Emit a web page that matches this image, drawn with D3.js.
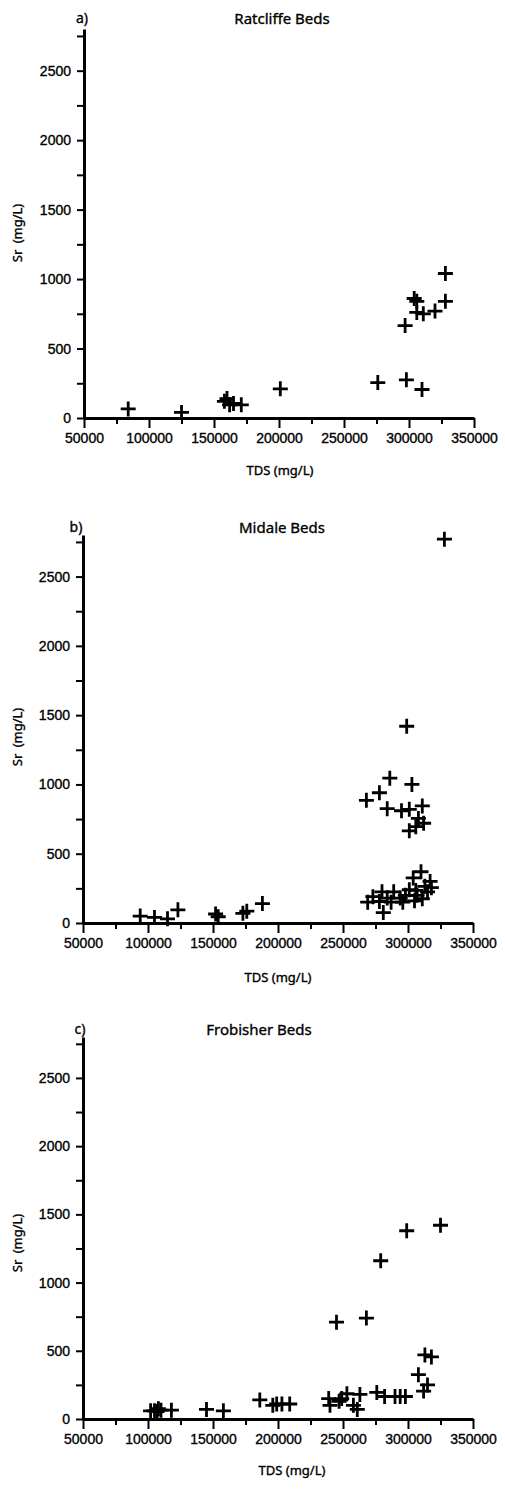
<!DOCTYPE html>
<html>
<head>
<meta charset="utf-8">
<script src="https://cdn.jsdelivr.net/npm/d3@7"></script>
<style>
  body { margin: 0; background: #fff; }
  svg { display: block; }
</style>
</head>
<body>
<script>
// values (TDS in mg/L, Sr in mg/L)
const ratcliffeTDS = [84000, 125000, 158000, 160000, 162000, 165000, 171000, 201000, 276000, 298000, 310000,
                      297000, 304000, 306000, 306000, 311000, 320000, 328000, 328000]
const ratcliffeSr  = [65, 40, 120, 140, 95, 105, 95, 210, 255, 275, 205,
                      665, 860, 840, 760, 750, 770, 840, 1040]

const midaleTDS = [94000, 105000, 115000, 123000, 152000, 154000, 173000, 176000, 188000,
                   286000, 303000, 278000, 268000, 284000, 295000, 301000, 311000, 308000, 312000, 306000, 301000, 299000, 328000,
                   310000, 304000, 317000, 313000, 318000, 301000, 306000, 315000, 289000, 280000, 273000, 284000, 294000,
                   298000, 307000, 311000, 269000, 278000, 287000, 296000, 305000, 281000]
const midaleSr  = [50, 40, 30, 95, 65, 45, 70, 85, 140,
                   1045, 1000, 940, 885, 825, 810, 820, 845, 755, 720, 695, 665, 1420, 2770,
                   370, 325, 300, 265, 255, 240, 235, 225, 225, 225, 190, 180, 180,
                   200, 200, 175, 150, 155, 150, 150, 160, 75]

const frobisherTDS = [325000, 299000, 279000, 268000, 245000, 313000, 318000, 308000, 315000, 312000,
                      276000, 282000, 290000, 294000, 298000, 263000, 253000, 249000, 239000, 240000, 258000, 261000, 247000,
                      209000, 203000, 199000, 196000, 186000, 158000, 145000, 118000, 108000, 105000, 102000, 107000, 110000]
const frobisherSr  = [1420, 1380, 1160, 740, 710, 470, 455, 325, 250, 205,
                      195, 165, 165, 165, 165, 180, 185, 150, 150, 100, 100, 70, 130,
                      110, 110, 110, 100, 140, 60, 70, 65, 75, 60, 60, 55, 65]

const xMajorTicks = [50000, 100000, 150000, 200000, 250000, 300000, 350000]
const xMinorTicks = [75000, 125000, 175000, 225000, 275000, 325000]
const yTicks = [0, 250, 500, 750, 1000, 1250, 1500, 1750, 2000, 2250, 2500, 2750]
const yLabelled = [0, 500, 1000, 1500, 2000, 2500]

let svg = d3.select("body").append("svg")
    .attr("width", 505)
    .attr("height", 1494)

// the scanned text is a bit heavy, a thin stroke gets closer to it
function heavyText(sel, family, size) {
    sel.style("font-family", family)
        .style("font-size", size)
        .attr("fill", "#000")
        .attr("stroke", "#000")
        .attr("stroke-width", 0.35)
}

function drawPanel(p, tds, sr) {
    let x = d3.scaleLinear().domain([50000, 350000]).range([p.left, p.right]),
        y = d3.scaleLinear().domain([0, 2800]).range([p.bottom, p.top]);

    let g = svg.append("g")

    // minor x ticks
    g.append("g")
        .attr("transform", "translate(0," + p.bottom + ")")
        .call(d3.axisBottom(x).tickValues(xMinorTicks).tickSize(6).tickFormat(""))
        .call(a => a.select(".domain").remove())
        .selectAll(".tick line").attr("stroke-width", 2)

    // major x ticks + labels
    let xAxis = g.append("g")
        .attr("transform", "translate(0," + p.bottom + ")")
        .call(d3.axisBottom(x).tickValues(xMajorTicks).tickSize(10).tickSizeOuter(0).tickPadding(5).tickFormat(d3.format("d")))
    xAxis.select(".domain").attr("stroke-width", 3)
    xAxis.selectAll(".tick line").attr("stroke-width", 2)
    heavyText(xAxis.selectAll("text"), "'Liberation Sans', Arial, sans-serif", "14px")

    // y axis
    let yAxis = g.append("g")
        .attr("transform", "translate(" + p.left + ",0)")
        .call(d3.axisLeft(y).tickValues(yTicks).tickSize(7).tickSizeOuter(0).tickPadding(6)
            .tickFormat(d => yLabelled.includes(d) ? d : ""))
    yAxis.select(".domain").attr("stroke-width", 3)
    yAxis.selectAll(".tick line").attr("stroke-width", 2)
    heavyText(yAxis.selectAll("text"), "'Liberation Sans', Arial, sans-serif", "14px")

    // data crosses
    let s = 7.5
    g.append("g")
        .selectAll("path")
        .data(d3.zip(tds, sr))
        .enter()
        .append("path")
          .attr("d", function(d) {
              let cx = x(d[0]), cy = y(d[1])
              return "M" + (cx - s) + "," + cy + "H" + (cx + s) + "M" + cx + "," + (cy - s) + "V" + (cy + s)
          })
          .attr("fill", "none")
          .attr("stroke", "#000")
          .attr("stroke-width", 2.8)

    // titles and axis labels
    g.append("text")
        .attr("x", p.titleX)
        .attr("y", p.titleY)
        .attr("text-anchor", "middle")
        .text(p.title)
        .call(heavyText, "'Noto Sans', sans-serif", "15px")

    g.append("text")
        .attr("x", p.letterX)
        .attr("y", p.titleY - 1)
        .attr("text-anchor", "middle")
        .text(p.letter)
        .call(heavyText, "'Noto Sans', sans-serif", "14px")

    g.append("text")
        .attr("x", p.tdsX)
        .attr("y", p.tdsY)
        .attr("text-anchor", "middle")
        .text("TDS (mg/L)")
        .call(heavyText, "'Noto Sans', sans-serif", "13px")

    g.append("text")
        .attr("transform", "translate(22," + p.srY + ") rotate(-90)")
        .attr("text-anchor", "middle")
        .style("word-spacing", "3px")
        .text("Sr (mg/L)")
        .call(heavyText, "'Noto Sans', sans-serif", "13px")
}

drawPanel({letter: "a)", title: "Ratcliffe Beds", left: 84, right: 474, top: 29, bottom: 418,
           titleX: 282, titleY: 24, letterX: 82, srY: 233, tdsX: 280, tdsY: 475}, ratcliffeTDS, ratcliffeSr)
drawPanel({letter: "b)", title: "Midale Beds", left: 83, right: 473, top: 535, bottom: 923,
           titleX: 282, titleY: 533, letterX: 76, srY: 737, tdsX: 278, tdsY: 982}, midaleTDS, midaleSr)
drawPanel({letter: "c)", title: "Frobisher Beds", left: 83, right: 473, top: 1037, bottom: 1419,
           titleX: 259, titleY: 1035, letterX: 80, srY: 1243, tdsX: 292, tdsY: 1475}, frobisherTDS, frobisherSr)
</script>
</body>
</html>
